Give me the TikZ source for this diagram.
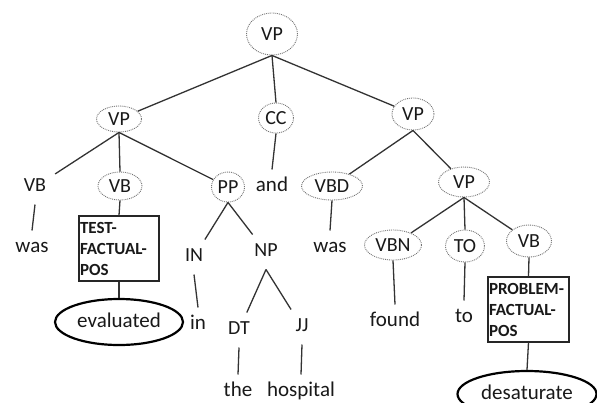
\documentclass[tikz,border=0pt]{standalone}
\usepackage{fontspec}
\setmainfont{Carlito}
\usetikzlibrary{shapes.geometric}
\begin{document}
\begin{tikzpicture}[x=1pt,y=-1pt,
  tag/.style={ellipse, draw=black!55, densely dotted, line width=0.9pt, inner sep=0pt,
    font=\fontsize{20}{24}\selectfont, text=black!90},
  word/.style={inner sep=0pt, outer sep=9pt, text height=13pt, text depth=4pt,
    font=\fontsize{21}{25}\selectfont, text=black!90},
  label/.style={word, font=\fontsize{20}{24}\selectfont},
  semtag/.style={draw=black!85, line width=1.1pt, align=left, text width=78pt,
    inner xsep=1pt, inner ysep=0pt, minimum height=65pt,
    font=\fontsize{17}{21}\selectfont\bfseries, text=black!90},
  target/.style={ellipse, draw=black, line width=2.2pt, inner sep=0pt,
    text height=14pt, text depth=4pt,
    font=\fontsize{21}{25}\selectfont, text=black!90},
  edge/.style={draw=black!80, line width=1.3pt}
]
\useasboundingbox (0,0) rectangle (597,402);
\fill[white] (0,0) rectangle (597,402);

% level 0
\node[tag, minimum width=51pt, minimum height=42pt] (vp0) at (272,34) {VP};
% level 1
\node[tag, minimum width=45pt, minimum height=26pt] (vp1) at (119,119) {VP};
\node[tag, minimum width=35pt, minimum height=30pt] (cc) at (276,118) {CC};
\node[tag, minimum width=42pt, minimum height=32pt] (vp2) at (413,114) {VP};
% level 2
\node[label] (vb0) at (35,187) {VB};
\node[tag, minimum width=44pt, minimum height=28pt] (vb1) at (120,186) {VB};
\node[tag, minimum width=33pt, minimum height=30pt] (pp) at (228,187) {PP};
\node[word] (and) at (272,187) {and};
\node[tag, minimum width=61pt, minimum height=28pt] (vbd) at (332,186) {VBD};
\node[tag, minimum width=51pt, minimum height=30pt] (vp3) at (464,182) {VP};
% level 3
\node[word] (was1) at (32,248) {was};
\node[semtag] (box1) at (119,248.5) {TEST-\\FACTUAL-\\POS};
\node[label] (in0) at (194,257) {IN};
\node[label] (np) at (266,252) {NP};
\node[word] (was2) at (330,248) {was};
\node[tag, minimum width=57pt, minimum height=30pt] (vbn) at (393,245) {VBN};
\node[tag, minimum width=39pt, minimum height=32pt] (to0) at (465,246) {TO};
\node[tag, minimum width=45pt, minimum height=32pt] (vb2) at (529,241) {VB};
% level 4
\node[target, minimum width=128pt, minimum height=46pt] (eval) at (119,322) {evaluated};
\node[word] (in1) at (198,325) {in};
\node[label] (dt) at (239,330) {DT};
\node[label] (jj) at (302,327) {JJ};
\node[word] (found) at (395,322) {found};
\node[word] (to1) at (464,318) {to};
\node[semtag, text width=79pt] (box2) at (528.5,309.5) {PROBLEM-\\FACTUAL-\\POS};
% level 5
\node[word] (the) at (238,392) {the};
\node[word] (hosp) at (301,392) {hospital};
\node[target, minimum width=139pt, minimum height=46pt] (desat) at (527,394) {desaturate};

% connectors
\draw[edge] (vp0.south) -- (vp1);
\draw[edge] (vp0.south) -- (cc.north);
\draw[edge] (vp0.south) -- (vp2);
\draw[edge] (vp1.south) -- (vb0);
\draw[edge] (vp1.south) -- (vb1.north);
\draw[edge] (vp1.south) -- (pp);
\draw[edge] (cc.south) -- (and.north);
\draw[edge] (vp2.south) -- (vbd);
\draw[edge] (vp2.south) -- (vp3);
\draw[edge] (vb0.south) -- (was1.north);
\draw[edge] (vb1.south) -- (box1.north);
\draw[edge] (box1.south) -- (eval.north);
\draw[edge] (pp.south) -- (in0);
\draw[edge] (pp.south) -- (np);
\draw[edge] (in0.south) -- (in1.north);
\draw[edge] (np.south) -- (dt);
\draw[edge] (np.south) -- (jj);
\draw[edge] (dt.south) -- (the.north);
\draw[edge] (jj.south) -- (hosp.north);
\draw[edge] (vbd.south) -- (was2.north);
\draw[edge] (vp3.south) -- (vbn);
\draw[edge] (vp3.south) -- (to0.north);
\draw[edge] (vp3.south) -- (vb2);
\draw[edge] (vbn.south) -- (found.north);
\draw[edge] (to0.south) -- (to1.north);
\draw[edge] (vb2.south) -- (box2.north);
\draw[edge] (box2.south) -- (desat.north);
\end{tikzpicture}
\end{document}
